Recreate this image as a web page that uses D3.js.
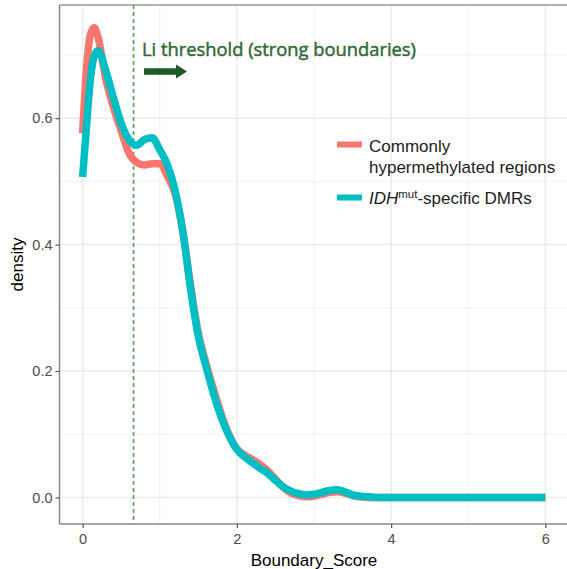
<!DOCTYPE html>
<html>
<head>
<meta charset="utf-8">
<script src="https://cdn.jsdelivr.net/npm/d3@7"></script>
<style>
  body { margin: 0; background: #fff; }
  svg { display: block; font-family: "Liberation Sans", Arial, sans-serif; }
</style>
</head>
<body>
<svg id="chart" width="567" height="569"></svg>
<script>
// Boundary_Score grid and density estimates
const scoreX = [0, 0.05, 0.1, 0.15, 0.2, 0.3, 0.4, 0.5, 0.6, 0.7, 0.8, 0.9, 1.0, 1.1, 1.2, 1.3, 1.4, 1.5, 1.6, 1.7,
  1.8, 1.9, 2.0, 2.1, 2.2, 2.3, 2.4, 2.5, 2.6, 2.7, 2.8, 2.9, 3.0, 3.1, 3.2, 3.3, 3.4, 3.5, 3.6, 3.7, 3.8, 4.0, 4.5, 5.0, 5.5, 6.0];
const commonDensity = [0.576, 0.677, 0.732, 0.743, 0.728, 0.662, 0.617, 0.580, 0.545, 0.530, 0.526, 0.528, 0.528, 0.508, 0.480, 0.420, 0.335, 0.260, 0.212, 0.170,
  0.131, 0.099, 0.077, 0.067, 0.060, 0.052, 0.042, 0.029, 0.016, 0.007, 0.003, 0.001, 0.002, 0.005, 0.008, 0.009, 0.007, 0.003, 0.001, 0, 0, 0, 0, 0, 0, 0];
const idhDensity = [0.507, 0.587, 0.661, 0.698, 0.707, 0.675, 0.632, 0.592, 0.566, 0.557, 0.566, 0.569, 0.550, 0.526, 0.485, 0.420, 0.330, 0.255, 0.207, 0.163,
  0.126, 0.097, 0.076, 0.064, 0.055, 0.046, 0.038, 0.027, 0.017, 0.010, 0.006, 0.004, 0.005, 0.008, 0.011, 0.012, 0.009, 0.004, 0.002, 0.001, 0, 0, 0, 0, 0, 0];
const xTicks = [0, 2, 4, 6];
const yTicks = [0, 0.2, 0.4, 0.6];
const xMinor = [1, 3, 5];
const yMinor = [0.1, 0.3, 0.5, 0.7];
const threshold = 0.66;

const svg = d3.select("#chart");
const panel = { left: 59.5, right: 568.5, top: 5, bottom: 524 };

const x = d3.scaleLinear().domain([-0.3, 6.3]).range([panel.left, panel.right]);
const y = d3.scaleLinear().domain([-0.042, 0.779]).range([panel.bottom, panel.top]);

// grid
const grid = svg.append("g");
grid.selectAll(".vmin").data(xMinor).join("line")
  .attr("x1", d => x(d)).attr("x2", d => x(d)).attr("y1", panel.top).attr("y2", panel.bottom)
  .attr("stroke", "#f0f0f0").attr("stroke-width", 1);
grid.selectAll(".hmin").data(yMinor).join("line")
  .attr("y1", d => y(d)).attr("y2", d => y(d)).attr("x1", panel.left).attr("x2", panel.right)
  .attr("stroke", "#f0f0f0").attr("stroke-width", 1);
grid.selectAll(".vmaj").data(xTicks).join("line")
  .attr("x1", d => x(d)).attr("x2", d => x(d)).attr("y1", panel.top).attr("y2", panel.bottom)
  .attr("stroke", "#ebebeb").attr("stroke-width", 1.5);
grid.selectAll(".hmaj").data(yTicks).join("line")
  .attr("y1", d => y(d)).attr("y2", d => y(d)).attr("x1", panel.left).attr("x2", panel.right)
  .attr("stroke", "#ebebeb").attr("stroke-width", 1.5);

// panel border (top visible, right cropped)
svg.append("line").attr("x1", panel.left).attr("x2", 567).attr("y1", panel.top).attr("y2", panel.top)
  .attr("stroke", "#999").attr("stroke-width", 1.5);

// threshold line
svg.append("line")
  .attr("x1", x(threshold)).attr("x2", x(threshold)).attr("y1", panel.top).attr("y2", panel.bottom)
  .attr("stroke", "#5c9e5c").attr("stroke-width", 1.6).attr("stroke-dasharray", "4,3");

// density curves
const line = d3.line().x(d => x(d[0])).y(d => y(d[1])).curve(d3.curveMonotoneX);
svg.append("path").datum(scoreX.map((v, i) => [v, commonDensity[i]]))
  .attr("d", line).attr("fill", "none").attr("stroke", "#F8766D").attr("stroke-width", 7.5).attr("stroke-linejoin", "round");
svg.append("path").datum(scoreX.map((v, i) => [v, idhDensity[i]]))
  .attr("d", line).attr("fill", "none").attr("stroke", "#00BFC4").attr("stroke-width", 7.5).attr("stroke-linejoin", "round");

// axes
const yAxis = svg.append("g").attr("transform", `translate(${panel.left},0)`)
  .call(d3.axisLeft(y).tickValues(yTicks).tickFormat(d3.format(".1f")).tickSize(4).tickSizeOuter(0));
const xAxis = svg.append("g").attr("transform", `translate(0,${panel.bottom})`)
  .call(d3.axisBottom(x).tickValues(xTicks).tickFormat(d3.format("d")).tickSize(4).tickSizeOuter(0));
[xAxis, yAxis].forEach(a => {
  a.select(".domain").attr("stroke", "#888").attr("stroke-width", 1.5);
  a.selectAll(".tick line").attr("stroke", "#555").attr("stroke-width", 1.2);
  a.selectAll(".tick text").attr("fill", "#4d4d4d").attr("font-size", 14.5).attr("font-family", "Liberation Sans, Arial, sans-serif");
});
yAxis.select(".domain").attr("d", `M0,${panel.top}V${panel.bottom}`);
xAxis.select(".domain").attr("d", `M${panel.left},0H567`);
xAxis.selectAll(".tick text").attr("dy", "0.9em");

// axis titles
svg.append("text").attr("x", x(3)).attr("y", 566).attr("text-anchor", "middle")
  .attr("font-size", 17).attr("fill", "#000").text("Boundary_Score");
svg.append("text").attr("transform", `translate(23,${(panel.top + panel.bottom) / 2}) rotate(-90)`)
  .attr("text-anchor", "middle").attr("font-size", 17).attr("fill", "#000").text("density");

// annotation
svg.append("text").attr("x", 142).attr("y", 56).attr("font-size", 18).attr("fill", "#2f6a35")
  .attr("stroke", "#2f6a35").attr("stroke-width", 0.45)
  .attr("font-family", "Open Sans, Liberation Sans, sans-serif")
  .attr("textLength", 274).attr("lengthAdjust", "spacingAndGlyphs")
  .text("Li threshold (strong boundaries)");
const ay = 71.5;
svg.append("path")
  .attr("d", `M144,${ay - 3.3}H176V${ay - 7}L187,${ay}L176,${ay + 7}V${ay + 3.3}H144Z`)
  .attr("fill", "#1e5a22");

// legend
const legend = svg.append("g").attr("font-size", 17).attr("fill", "#222");
legend.append("line").attr("x1", 337).attr("x2", 362).attr("y1", 144.5).attr("y2", 144.5)
  .attr("stroke", "#F8766D").attr("stroke-width", 6);
legend.append("line").attr("x1", 337).attr("x2", 362).attr("y1", 197.5).attr("y2", 197.5)
  .attr("stroke", "#00BFC4").attr("stroke-width", 6);
legend.append("text").attr("x", 369).attr("y", 151.5).text("Commonly");
legend.append("text").attr("x", 369).attr("y", 172.5).text("hypermethylated regions");
const t3 = legend.append("text").attr("x", 369).attr("y", 203.5);
t3.append("tspan").attr("font-style", "italic").text("IDH");
t3.append("tspan").attr("font-size", 11.5).attr("dy", -6).text("mut");
t3.append("tspan").attr("dy", 6).text("-specific DMRs");
</script>
</body>
</html>
